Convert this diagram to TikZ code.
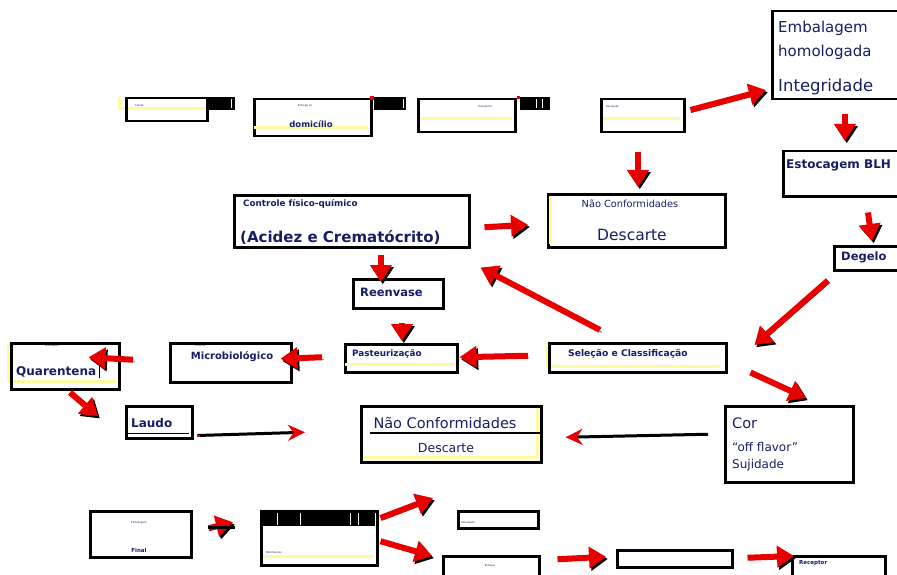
\documentclass[tikz,border=0pt]{standalone}
\usepackage{fontspec}
\setmainfont{DejaVu Sans}
\usetikzlibrary{arrows.meta}

\definecolor{navy}{RGB}{22,30,100}
\definecolor{arrred}{RGB}{232,0,0}
\definecolor{hilite}{RGB}{255,250,160}

\tikzset{
	box/.style={draw, line width=2.5pt, inner sep=0pt, anchor=north west},
	lbl/.style={text=navy, inner sep=0pt, anchor=west},
	tinytxt/.style={lbl, font=\fontsize{2.6}{3}\selectfont},
	fat/.style={draw=arrred, line width=6pt, -{Triangle[length=17pt,width=21pt]},
		preaction={draw=black, transform canvas={shift={(1.8pt,-2.2pt)}}}},
	thinarrow/.style={draw=black, line width=3pt, -{Stealth[arrred,length=17pt,width=16pt]}},
	hl/.style={draw=hilite, line width=3pt},
}

\begin{document}
\begin{tikzpicture}[x=1pt, y=-1pt]
	\useasboundingbox (0,0) rectangle (897,575);

	% top row
	\draw[hl] (119,97) -- (119,110) (118,109) -- (205,109);
	\node[box, minimum width=81pt, minimum height=23pt] (col) at (125,97) {};
	\fill (206,97) rectangle (235,110);
	\draw[white, line width=0.8pt] (231,99) -- (231,108);
	\node[tinytxt] (colt) at (135,106) {Coleta};

	\node[box, minimum width=117pt, minimum height=37pt] (ent) at (253,98) {};
	\draw[hl] (254,128) -- (368,128);
	\fill (374,97) rectangle (406,110);
	\fill[arrred] (370,96) rectangle (374,100);
	\draw[white, line width=0.8pt] (403,99) -- (403,108);
	\node[tinytxt, anchor=center] (entt) at (305,106) {Entrega no};
	\node[lbl, anchor=center, font=\bfseries\fontsize{8.5}{10}\selectfont] (entd) at (311,124) {domicílio};

	\node[box, minimum width=97pt, minimum height=33pt] (tra) at (417,98) {};
	\draw[hl] (420,119) -- (512,119);
	\fill (520,97) rectangle (550,110);
	\fill[arrred] (517,96) rectangle (520,99);
	\draw[white, line width=0.8pt] (536,99) -- (536,108) (542,99) -- (542,108);
	\node[tinytxt, anchor=center] (trat) at (485,107) {Transporte};

	\node[box, minimum width=83pt, minimum height=33pt] (rec) at (600,98) {};
	\draw[hl] (603,119) -- (680,119);
	\node[tinytxt] (rect) at (606,107) {Recepção};

	% right column
	\node[box, minimum width=140pt, minimum height=88pt] (emb) at (771,10) {};
	\node[lbl, font=\fontsize{15}{17}\selectfont] (embt) at (778,28) {Embalagem};
	\node[lbl, font=\fontsize{15}{17}\selectfont] (homt) at (778,52) {homologada};
	\node[lbl, font=\fontsize{16.5}{18}\selectfont] (intt) at (778,87) {Integridade};

	\node[box, minimum width=130pt, minimum height=45pt] (est) at (782,150) {};
	\node[lbl, font=\bfseries\fontsize{12}{14}\selectfont] (estt) at (786,165) {Estocagem BLH};

	\node[box, minimum width=80pt, minimum height=24pt] (deg) at (833,245) {};
	\node[lbl, font=\bfseries\fontsize{11.5}{13}\selectfont] (degt) at (841,257) {Degelo};

	% middle
	\node[box, minimum width=177pt, minimum height=53pt] (nc1) at (547,193) {};
	\draw[hl] (550,196) -- (550,244);
	\node[lbl, anchor=center, font=\fontsize{9.8}{11}\selectfont] (nc1t) at (630,204) {Não Conformidades};
	\node[lbl, anchor=center, font=\fontsize{15.5}{17}\selectfont] (nc1d) at (632,235) {Descarte};

	\node[box, minimum width=235pt, minimum height=52pt] (fq) at (233,194) {};
	\node[lbl, font=\bfseries\fontsize{8.8}{10}\selectfont] (fqt) at (243,204) {Controle físico-químico};
	\node[lbl, font=\bfseries\fontsize{15}{17}\selectfont] (fqa) at (240,237) {(Acidez e Crematócrito)};

	\node[box, minimum width=90pt, minimum height=29pt] (ree) at (352,278) {};
	\node[lbl, font=\bfseries\fontsize{11.5}{13}\selectfont] (reet) at (360,292) {Reenvase};

	\node[box, minimum width=112pt, minimum height=28pt] (pas) at (344,343) {};
	\draw[hl] (345,364) -- (455,364);
	\node[lbl, font=\bfseries\fontsize{8.8}{10}\selectfont] (past) at (352,354) {Pasteurização};

	\draw[hl] (547,343) -- (547,368) (549,366) -- (720,366);
	\node[box, minimum width=177pt, minimum height=29pt] (sel) at (548,342) {};
	\node[lbl, font=\bfseries\fontsize{9.2}{11}\selectfont] (selt) at (568,354) {Seleção e Classificação};

	\node[box, minimum width=121pt, minimum height=39pt] (mic) at (169,342) {};
	\node[tinytxt, anchor=center] (mict) at (200,346) {Controle};
	\node[lbl, anchor=center, font=\bfseries\fontsize{10}{12}\selectfont] (micb) at (232,357) {Microbiológico};

	\draw[hl] (8,343) -- (8,381) (8,381) -- (117,381);
	\node[box, minimum width=108pt, minimum height=46pt] (qua) at (10,342) {};
	\node[tinytxt, anchor=center] (quat) at (52,346) {Estocagem};
	\node[lbl, font=\bfseries\fontsize{12}{14}\selectfont] (quab) at (16,372) {Quarentena};
	\draw[line width=1pt] (99,360) -- (99,378);

	\node[box, minimum width=66pt, minimum height=32pt] (lau) at (125,405) {};
	\node[lbl, font=\bfseries\fontsize{12}{14}\selectfont] (laut) at (131,423) {Laudo};
	\draw[line width=0.8pt] (127,433) -- (189,433);

	\draw[hl] (537,408) -- (537,458) (362,457) -- (537,457);
	\node[box, minimum width=180pt, minimum height=56pt] (nc2) at (360,405) {};
	\node[lbl, anchor=center, font=\fontsize{14.5}{16}\selectfont] (nc2t) at (445,423) {Não Conformidades};
	\draw[line width=1.5pt] (370,433) -- (541,433);
	\node[lbl, anchor=center, font=\fontsize{12.5}{14}\selectfont] (nc2d) at (446,448) {Descarte};

	\node[box, minimum width=128pt, minimum height=76pt] (cor) at (724,405) {};
	\node[lbl, font=\fontsize{14.5}{16}\selectfont] (cort) at (732,423) {Cor};
	\node[lbl, font=\fontsize{12}{14}\selectfont] (off) at (732,447) {“off flavor”};
	\node[lbl, font=\fontsize{12}{14}\selectfont] (suj) at (732,465) {Sujidade};

	% bottom row
	\node[box, minimum width=101pt, minimum height=46pt] (emf) at (89,510) {};
	\node[tinytxt, anchor=center] (emft) at (139,523) {Embalagem};
	\node[lbl, anchor=center, font=\bfseries\fontsize{5.5}{7}\selectfont] (emff) at (139,550) {Final};

	\draw[hl] (260,510) -- (377,510) (262,556) -- (374,556);
	\node[box, minimum width=116pt, minimum height=54pt] (dis) at (260,510) {};
	\fill (261,512) rectangle (375,526);
	\draw[white, line width=0.8pt] (277,513) -- (277,525) (300,513) -- (300,525) (350,513) -- (350,525) (358,513) -- (358,525);
	\node[tinytxt] (dist) at (266,553) {Distribuição};

	\node[box, minimum width=80pt, minimum height=17pt] (rot) at (457,510) {};
	\node[tinytxt] (rott) at (461,523) {Rotulagem};

	\node[box, minimum width=96pt, minimum height=20pt] (sto) at (442,555) {};
	\node[tinytxt, anchor=center] (stot) at (490,566) {Estoque};

	\node[box, minimum width=115pt, minimum height=17pt] (por) at (616,549) {};
	\node[tinytxt] (port) at (620,551) {Porcionamento};

	\node[box, minimum width=93pt, minimum height=20pt] (rcp) at (791,555) {};
	\node[lbl, font=\bfseries\fontsize{5.5}{7}\selectfont] (rcpt) at (799,563) {Receptor};

	% fat arrows
	\draw[fat] ([shift={(5,12)}]rec.north east) -- ([shift={(-5,80)}]emb.north west);
	\draw[fat] ([shift={(74,14)}]emb.south west) -- ([shift={(63,-9)}]est.north west);
	\draw[fat] ([shift={(86,15)}]est.south west) -- ([shift={(39,-4)}]deg.north west);
	\draw[fat] ([shift={(-5,9)}]deg.south west) -- ([shift={(27,3)}]sel.north east);
	\draw[fat] ([shift={(38,19)}]rec.south west) -- ([shift={(91,-6)}]nc1.north west);
	\draw[fat] ([shift={(14,6)}]fq.east) -- ([shift={(-19,4)}]nc1.west);
	\draw[fat] ([shift={(148,6)}]fq.south west) -- ([shift={(29,4)}]ree.north west);
	\draw[fat] ([shift={(52,-12)}]sel.north west) -- ([shift={(10,19)}]fq.south east);
	\draw[fat] ([shift={(50,13)}]ree.south west) -- ([shift={(58,-2)}]pas.north west);
	\draw[fat] ([shift={(-20,-2)}]sel.west) -- ([shift={(1,-1)}]pas.east);
	\draw[fat] ([shift={(-22,-1)}]pas.west) -- ([shift={(-12,-4)}]mic.east);
	\draw[fat] ([shift={(-36,-3)}]mic.west) -- ([shift={(-32,-9)}]qua.east);
	\draw[fat] ([shift={(60,2)}]qua.south west) -- ([shift={(-27,-6)}]lau.west);
	\draw[fat] ([shift={(23,-1)}]sel.south east) -- ([shift={(82,-7)}]cor.north west);
	\draw[fat] ([shift={(16,-6)}]emf.east) -- ([shift={(-27,-16)}]dis.west);
	\draw[line width=2.5pt] ([shift={(15,-7)}]emf.east) -- ([shift={(-25,-11)}]dis.west);
	\draw[fat] ([shift={(2,8)}]dis.north east) -- ([shift={(-24,-12)}]rot.north west);
	\draw[fat] ([shift={(2,3)}]dis.east) -- ([shift={(-10,1)}]sto.north west);
	\draw[fat] ([shift={(17,-7)}]sto.east) -- ([shift={(-10,-2)}]por.west);
	\draw[fat] ([shift={(14,-1)}]por.east) -- ([shift={(3,1)}]rcp.north west);

	% thin arrows
	\draw[thinarrow] ([shift={(4,-4)}]lau.south east) -- ([shift={(-55,-2)}]nc2.west);
	\fill[arrred] ([shift={(3,-5)}]lau.south east) rectangle ([shift={(6,-3)}]lau.south east);
	\draw[thinarrow] ([shift={(-16,-10)}]cor.west) -- ([shift={(23,3)}]nc2.east);
\end{tikzpicture}
\end{document}
